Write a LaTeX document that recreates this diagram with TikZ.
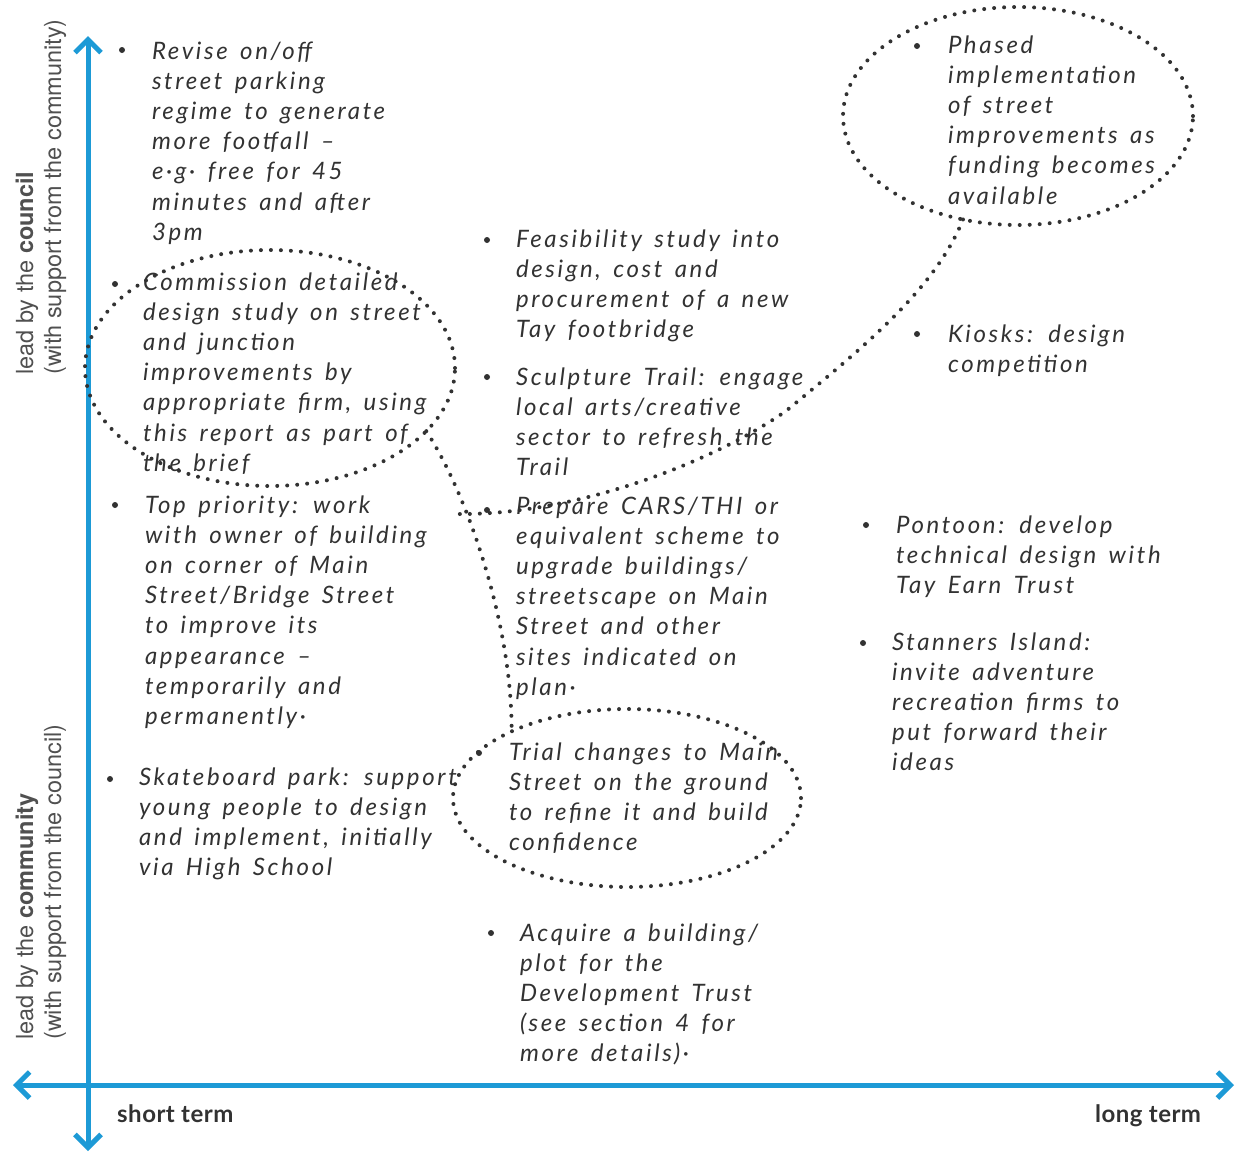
\documentclass[tikz,border=0pt]{standalone}
\usepackage{fontspec}
\setmainfont{Lato}
\newfontfamily\handfont[LetterSpace=11,WordSpace=1.5]{Lato}
\newfontfamily\axfont{TeX Gyre Heros}
\newfontfamily\termfont[LetterSpace=2]{Lato}
\usetikzlibrary{arrows.meta,shapes.geometric}
\definecolor{axblue}{RGB}{29,154,214}
\definecolor{ink}{RGB}{50,50,50}
\definecolor{labgray}{RGB}{80,80,80}
\tikzset{
  hand/.style={anchor=north west, inner sep=0pt, outer sep=0pt, align=left, text=ink,
    font=\handfont\itshape\fontsize{24}{30.2}\selectfont},
  bul/.style={circle, fill=ink, inner sep=0pt, minimum size=6pt},
  dotline/.style={draw=ink, line width=4pt, line cap=round, dash pattern=on 0pt off 10pt},
  blob/.style={ellipse, dotline, inner sep=0pt, outer sep=0pt},
  axisline/.style={draw=axblue, line width=5pt,
    arrows={Straight Barb[length=13pt,width=26pt]-Straight Barb[length=13pt,width=26pt]}},
  axlab/.style={rotate=90, anchor=base west, inner sep=0pt, text=labgray,
    font=\axfont\fontsize{23.5}{28}\selectfont},
  termlab/.style={anchor=base west, inner sep=0pt, text=ink,
    font=\termfont\bfseries\fontsize{24}{28}\selectfont},
}
\begin{document}
\begin{tikzpicture}[x=1pt,y=-1pt]
\useasboundingbox (0,0) rectangle (1236,1152);

% axes
\coordinate (ytop) at (88,36);
\coordinate (ybot) at (88,1151);
\coordinate (xl) at (13,1085);
\coordinate (xr) at (1234,1085);
\draw[axisline] (ybot) -- (ytop);
\draw[axisline] (xl) -- (xr);

% axis labels
\node[axlab] (lc1) at (33,375) {lead by the \textbf{council}};
\node[axlab] (lc2) at (61,375) {(with support from the community)};
\node[axlab] (lm1) at (33,1040) {lead by the \textbf{community}};
\node[axlab] (lm2) at (61,1040) {(with support from the council)};
\node[termlab] (st) at (117,1122) {short term};
\node[termlab] (lt) at (1095,1122) {long term};

% dotted bubbles
\node[blob, minimum width=370pt, minimum height=236pt] (e1) at (270,368) {};
\node[blob, minimum width=348pt, minimum height=178pt] (e2) at (627,798) {};
\node[blob, minimum width=350pt, minimum height=218pt] (e3) at (1018,116) {};
\coordinate (t3end) at (458,514);
\draw[dotline] (e1.-22) .. controls (465,490) and (512,620) .. (e2.150);
\draw[dotline] (e3.-118) .. controls (935,290) and (860,350) .. (786,411)
  .. controls (716,460) and (580,515) .. (t3end);

% bullets
\node[bul] (b1) at (122,50) {};
\node[bul] (b2) at (115,284) {};
\node[bul] (b3) at (115,505) {};
\node[bul] (b4) at (110,779) {};
\node[bul] (b5) at (487,240) {};
\node[bul] (b6) at (487,377) {};
\node[bul] (b7) at (487,510) {};
\node[bul] (b8) at (479,753) {};
\node[bul] (b9) at (491,933) {};
\node[bul] (b10) at (917,46) {};
\node[bul] (b11) at (917,334) {};
\node[bul] (b12) at (866,525) {};
\node[bul] (b13) at (863,643) {};

% texts (top = baseline - 21.14)
\node[hand] (t1) at (152,37.9) {\strut Revise on/off\\street parking\\regime to generate\\more footfall –\\e·g· free for 45\\minutes and after\\3pm};
\node[hand] (t2) at (143,268.9) {\strut Commission detailed\\design study on street\\and junction\\improvements by\\appropriate firm, using\\this report as part of\\the brief};
\node[hand] (t3) at (145,491.9) {\strut Top priority: work\\with owner of building\\on corner of Main\\Street/Bridge Street\\to improve its\\appearance –\\temporarily and\\permanently·};
\node[hand] (t4) at (139,763.9) {\strut Skateboard park: support\\young people to design\\and implement, initially\\via High School};
\node[hand] (t5) at (516,225.9) {\strut Feasibility study into\\design, cost and\\procurement of a new\\Tay footbridge};
\node[hand] (t6) at (516,363.9) {\strut Sculpture Trail: engage\\local arts/creative\\sector to refresh the\\Trail};
\node[hand] (t7) at (516,492.9) {\strut Prepare CARS/THI or\\equivalent scheme to\\upgrade buildings/\\streetscape on Main\\Street and other\\sites indicated on\\plan·};
\node[hand] (t8) at (509,738.9) {\strut Trial changes to Main\\Street on the ground\\to refine it and build\\confidence};
\node[hand] (t9) at (520,919.9) {\strut Acquire a building/\\plot for the\\Development Trust\\(see section 4 for\\more details)·};
\node[hand] (t10) at (948,31.9) {\strut Phased\\implementation\\of street\\improvements as\\funding becomes\\available};
\node[hand] (t11) at (948,320.9) {\strut Kiosks: design\\competition};
\node[hand] (t12) at (896,511.9) {\strut Pontoon: develop\\technical design with\\Tay Earn Trust};
\node[hand] (t13) at (892,628.9) {\strut Stanners Island:\\invite adventure\\recreation firms to\\put forward their\\ideas};
\end{tikzpicture}
\end{document}
